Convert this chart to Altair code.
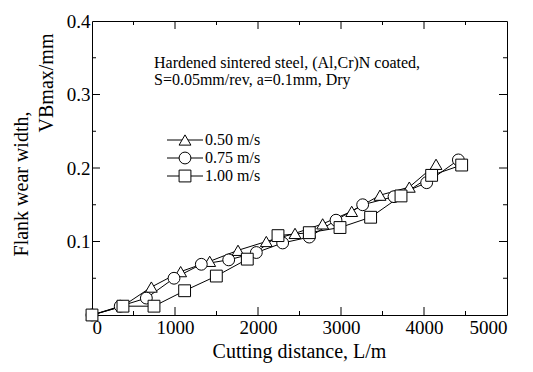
import altair as alt
import pandas as pd

# ---- data ----
speeds = ["0.50 m/s", "0.75 m/s", "1.00 m/s"]
shapes = ["triangle-up", "circle", "square"]

dist_050 = [0, 370, 715, 1068, 1418, 1759, 2100, 2446, 2779, 3129, 3470, 3823, 4145]
wear_050 = [0.0, 0.012, 0.038, 0.059, 0.073, 0.088, 0.100, 0.111, 0.124, 0.141, 0.163, 0.174, 0.205]

dist_075 = [0, 340, 655, 988, 1317, 1647, 1980, 2297, 2618, 2940, 3261, 3639, 4032, 4414]
wear_075 = [0.0, 0.012, 0.023, 0.050, 0.069, 0.075, 0.085, 0.098, 0.106, 0.129, 0.150, 0.161, 0.180, 0.211]

dist_100 = [0, 373, 747, 1116, 1498, 1871, 2241, 2618, 2988, 3357, 3723, 4092, 4454]
wear_100 = [0.0, 0.012, 0.012, 0.033, 0.053, 0.076, 0.108, 0.112, 0.119, 0.133, 0.162, 0.190, 0.204]

x_labels = [0, 1000, 2000, 3000, 4000, 5000]
x_major = [1000, 2000, 3000, 4000]
x_minor = [500, 1500, 2500, 3500, 4500]
y_labels = [0.1, 0.2, 0.3, 0.4]
y_major = [0.1, 0.2, 0.3]
y_minor = [0.05, 0.15, 0.25, 0.35]

note_lines = ["Hardened sintered steel, (Al,Cr)N coated,", "S=0.05mm/rev, a=0.1mm, Dry"]
x_title = "Cutting distance, L/m"
y_title_1 = "Flank wear width,"
y_title_2 = "VBmax/mm"

rows = []
for s, d, w in [(speeds[0], dist_050, wear_050), (speeds[1], dist_075, wear_075), (speeds[2], dist_100, wear_100)]:
    for xi, yi in zip(d, w):
        rows.append({"speed": s, "dist": xi, "wear": yi})
df = pd.DataFrame(rows)

FONT = "Liberation Serif"
W, H = 415, 294
MAJ, MIN = 8, 4
xs = alt.Scale(domain=[0, 5000], nice=False, zero=False)
ys = alt.Scale(domain=[0, 0.4], nice=False, zero=False)
shape_scale = alt.Scale(domain=speeds, range=shapes)

base = alt.Chart(df)

lines = base.mark_line(color="black", strokeWidth=1).encode(
    x=alt.X("dist:Q", scale=xs, title=None,
            axis=alt.Axis(orient="bottom", values=x_labels, format="d", labelPadding=3,
                          labelFont=FONT, labelFontSize=19, labelColor="black")),
    y=alt.Y("wear:Q", scale=ys, title=None,
            axis=alt.Axis(orient="left", values=y_labels, format=".1f", labelPadding=2,
                          labelFont=FONT, labelFontSize=19, labelColor="black")),
    detail="speed:N",
)

points = base.mark_point(fill="white", fillOpacity=1, stroke="black", strokeWidth=1,
                         opacity=1, size=140).encode(
    x=alt.X("dist:Q", scale=xs),
    y=alt.Y("wear:Q", scale=ys),
    shape=alt.Shape("speed:N", scale=shape_scale, legend=None),
)

# inward tick marks drawn through the scales
xt_major = pd.DataFrame({"v": x_major})
xt_minor = pd.DataFrame({"v": x_minor})
yt_major = pd.DataFrame({"v": y_major})
yt_minor = pd.DataFrame({"v": y_minor})


def xticks(d, n):
    c = alt.Chart(d)
    return [
        c.mark_rule(color="black", strokeWidth=1).encode(
            x=alt.X("v:Q", scale=xs), y=alt.value(H), y2=alt.value(H - n)),
        c.mark_rule(color="black", strokeWidth=1).encode(
            x=alt.X("v:Q", scale=xs), y=alt.value(0), y2=alt.value(n)),
    ]


def yticks(d, n):
    c = alt.Chart(d)
    return [
        c.mark_rule(color="black", strokeWidth=1).encode(
            y=alt.Y("v:Q", scale=ys), x=alt.value(0), x2=alt.value(n)),
        c.mark_rule(color="black", strokeWidth=1).encode(
            y=alt.Y("v:Q", scale=ys), x=alt.value(W), x2=alt.value(W - n)),
    ]


ticks = xticks(xt_major, MAJ) + xticks(xt_minor, MIN) + yticks(yt_major, MAJ) + yticks(yt_minor, MIN)

# legend drawn by hand
legend_layers = []
row_y = [119, 137, 155]
for s, shp, yy in zip(speeds, shapes, row_y):
    lc = alt.Chart(pd.DataFrame({"speed": [s]}))
    legend_layers.append(lc.mark_rule(color="black", strokeWidth=1).encode(
        x=alt.value(75), x2=alt.value(111), y=alt.value(yy)))
    legend_layers.append(lc.mark_point(shape=shp, fill="white", fillOpacity=1, stroke="black",
                                       strokeWidth=1, opacity=1, size=140).encode(
        x=alt.value(93), y=alt.value(yy)))
    legend_layers.append(lc.mark_text(align="left", baseline="middle", font=FONT, fontSize=16,
                                      color="black").encode(
        x=alt.value(113), y=alt.value(yy), text="speed:N"))

note_df = pd.DataFrame({"t": note_lines})
notes = [
    alt.Chart(note_df.iloc[[i]]).mark_text(align="left", baseline="middle", font=FONT, fontSize=16,
                                            color="black").encode(
        x=alt.value(62), y=alt.value(42 + 17 * i), text="t:N")
    for i in range(2)
]

title_df = pd.DataFrame({"t": [x_title, y_title_1, y_title_2]})
xtitle = alt.Chart(title_df.iloc[[0]]).mark_text(align="center", baseline="middle", font=FONT,
                                                  fontSize=20, color="black").encode(
    x=alt.value(W / 2), y=alt.value(H + 37), text="t:N")
ytitle1 = alt.Chart(title_df.iloc[[1]]).mark_text(align="center", baseline="middle", font=FONT,
                                                   fontSize=20, color="black", angle=270).encode(
    x=alt.value(-70), y=alt.value(163), text="t:N")
ytitle2 = alt.Chart(title_df.iloc[[2]]).mark_text(align="center", baseline="middle", font=FONT,
                                                   fontSize=20, color="black", angle=270).encode(
    x=alt.value(-45), y=alt.value(62), text="t:N")

chart = alt.layer(
    lines, *ticks, points, *legend_layers, *notes, xtitle, ytitle1, ytitle2
).properties(
    width=W, height=H,
    autosize=alt.AutoSizeParams(type="none"),
    padding={"left": 84, "top": 13, "right": 18, "bottom": 49},
    background="white",
).configure_view(stroke="black", strokeWidth=1).configure_axis(
    labelFont=FONT, labelFontSize=19, labelColor="black", domain=False, ticks=False, grid=False,
)

chart.save("out.html", embed_options={"renderer": "svg", "actions": False})
